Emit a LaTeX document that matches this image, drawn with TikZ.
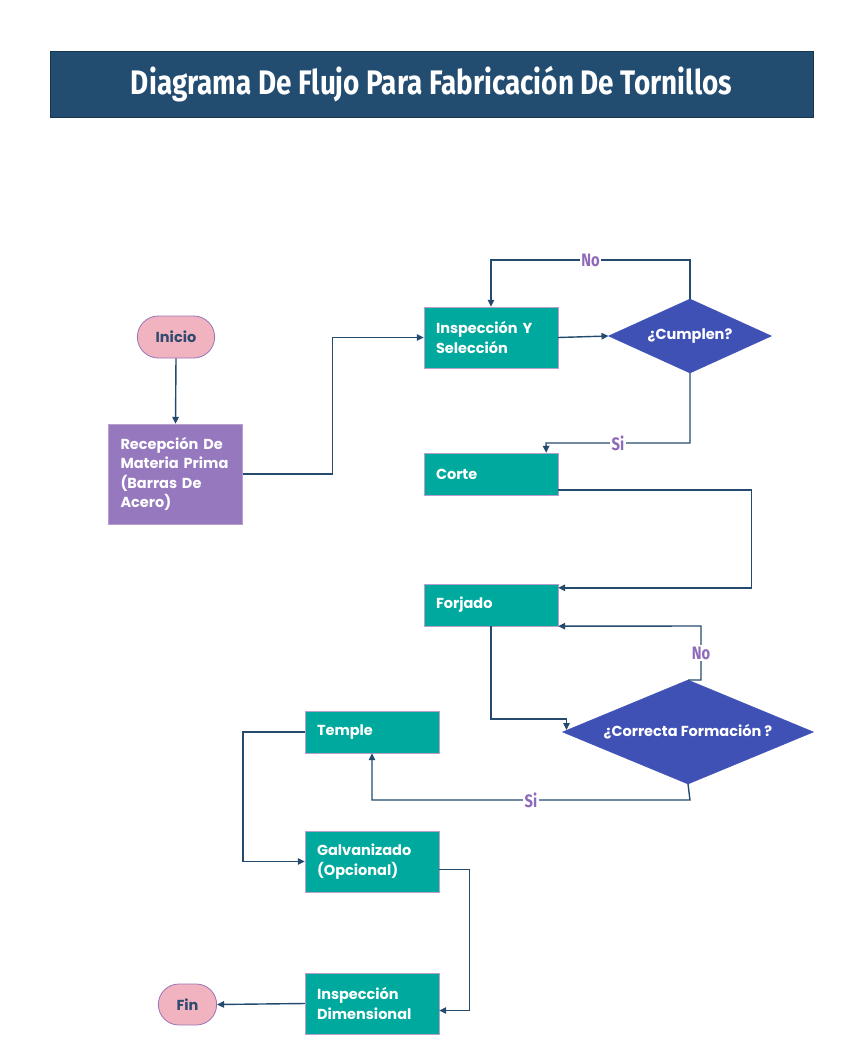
\documentclass[tikz,border=0pt]{standalone}
\usepackage{fontspec}
\setmainfont{Poppins}
\newfontfamily\titleFont[FakeStretch=0.82]{Fira Sans}
\usetikzlibrary{shapes.geometric,shapes.misc,arrows.meta}
\definecolor{titleBlue}{HTML}{224C70}
\definecolor{lineBlue}{HTML}{244B6E}
\definecolor{tealBox}{HTML}{00A99D}
\definecolor{lilacBox}{HTML}{9678BE}
\definecolor{pinkPill}{HTML}{F2B3C0}
\definecolor{pillEdge}{HTML}{9A73B8}
\definecolor{diamondBlue}{HTML}{4051B5}
\definecolor{labelPurple}{HTML}{8E6BB8}
\definecolor{pillText}{HTML}{2E4A6E}
\def\boxTextWidth{110pt}
\tikzset{
  nodeFont/.style={font=\fontsize{14.5}{19.5}\selectfont\bfseries},
  pill/.style={
    rounded rectangle,
    draw=pillEdge,
    line width=0.8pt,
    fill=pinkPill,
    text=pillText,
    nodeFont,
    minimum height=42pt
  },
  stepBox/.style={
    rectangle,
    draw=pillEdge!70,
    fill=tealBox,
    text=white,
    nodeFont,
    align=left,
    text width=\boxTextWidth,
    inner xsep=12pt,
    minimum height=42pt
  },
  decision/.style={
    diamond,
    draw=diamondBlue,
    fill=diamondBlue,
    text=white,
    nodeFont,
    inner sep=0pt,
    outer sep=0pt
  },
  lineArrow/.style={
    draw=lineBlue,
    line width=1.4pt,
    -{Triangle[length=7pt,width=6.5pt]}
  },
  decLabel/.style={
    fill=white,
    text=labelPurple,
    inner sep=1.5pt,
    font=\titleFont\fontsize{18}{20}\selectfont\bfseries
  }
}

\begin{document}
\begin{tikzpicture}[x=1pt,y=-1pt]
  \useasboundingbox (0,0) rectangle (866,1042);

  % title
  \node[rectangle,draw=titleBlue!70!black,fill=titleBlue,text=white,
        minimum width=763pt,minimum height=66pt,
        font=\titleFont\fontsize{34}{38}\selectfont\bfseries]
    (title) at (431.5,84) {Diagrama De Flujo Para Fabricación De Tornillos};

  % nodes
  \node[pill,minimum width=84pt] (inicio) at (176,337) {Inicio};
  \node[stepBox,fill=lilacBox,minimum height=100pt] (recepcion) at (175.5,474)
    {Recepción De\\Materia Prima\\(Barras De\\Acero)};
  \node[stepBox,minimum height=61pt] (inspeccion) at (491,337.5) {Inspección Y\\Selección};
  \node[decision,aspect=2.2,minimum width=163pt,minimum height=74pt] (cumplen) at (690,336)
    {¿Cumplen?};
  \node[stepBox] (corte) at (491,474) {Corte};
  \node[stepBox] (forjado) at (491,605) {Forjado};
  \node[decision,aspect=2.41,minimum width=251pt,minimum height=104pt] (formacion) at (688,732)
    {¿Correcta Formación ?};
  \node[stepBox] (temple) at (372,732) {Temple};
  \node[stepBox,minimum height=61pt] (galvanizado) at (372,861.5) {Galvanizado\\(Opcional)};
  \node[stepBox,minimum height=61pt] (inspDim) at (372,1003.5) {Inspección\\Dimensional};
  \node[pill,minimum width=65pt,minimum height=41pt] (fin) at (187.5,1004.5) {Fin};

  % bends
  \coordinate (noA) at (690,260);
  \coordinate (noB) at (491,260);
  \coordinate (siA) at (690,443);
  \coordinate (siB) at (546,443);
  \coordinate (noC) at (701,680);
  \coordinate (noD) at (701,626);
  \coordinate (siC) at (690,800);
  \coordinate (siD) at (372,800);

  % connectors
  \draw[lineArrow] (inicio.south) -- (recepcion.north);
  \draw[lineArrow] (recepcion.east) -- ++(90,0) |- (inspeccion.west);
  \draw[lineArrow] (inspeccion.east) -- (cumplen.west);
  \draw[lineArrow] (cumplen.north) -- (noA) -- node[decLabel] (noCumplen) {No} (noB)
    -- (inspeccion.north);
  \draw[lineArrow] (cumplen.south) -- (siA) -- node[decLabel] (siCumplen) {Si} (siB)
    -- ([xshift=-12pt]corte.north east);
  \draw[lineArrow] ([yshift=-16pt]corte.east) -- ++(193,0)
    |- ([yshift=-4pt]forjado.north east);
  \draw[lineArrow] (formacion.north) -- (noC) -- node[decLabel] (noForma) {No} (noD)
    -- (forjado.south east);
  \draw[lineArrow] (forjado.south) |- ([xshift=4pt,yshift=13pt]formacion.west)
    -- ([xshift=4pt,yshift=2pt]formacion.west);
  \draw[lineArrow] (formacion.south) -- (siC) -- node[decLabel] (siForma) {Si} (siD)
    -- (temple.south);
  \draw[lineArrow] (temple.west) -- ++(-62,0) |- (galvanizado.west);
  \draw[lineArrow] ([yshift=-8pt]galvanizado.east) -- ++(30,0)
    |- ([yshift=-7pt]inspDim.east);
  \draw[lineArrow] (inspDim.west) -- (fin.east);
\end{tikzpicture}
\end{document}
